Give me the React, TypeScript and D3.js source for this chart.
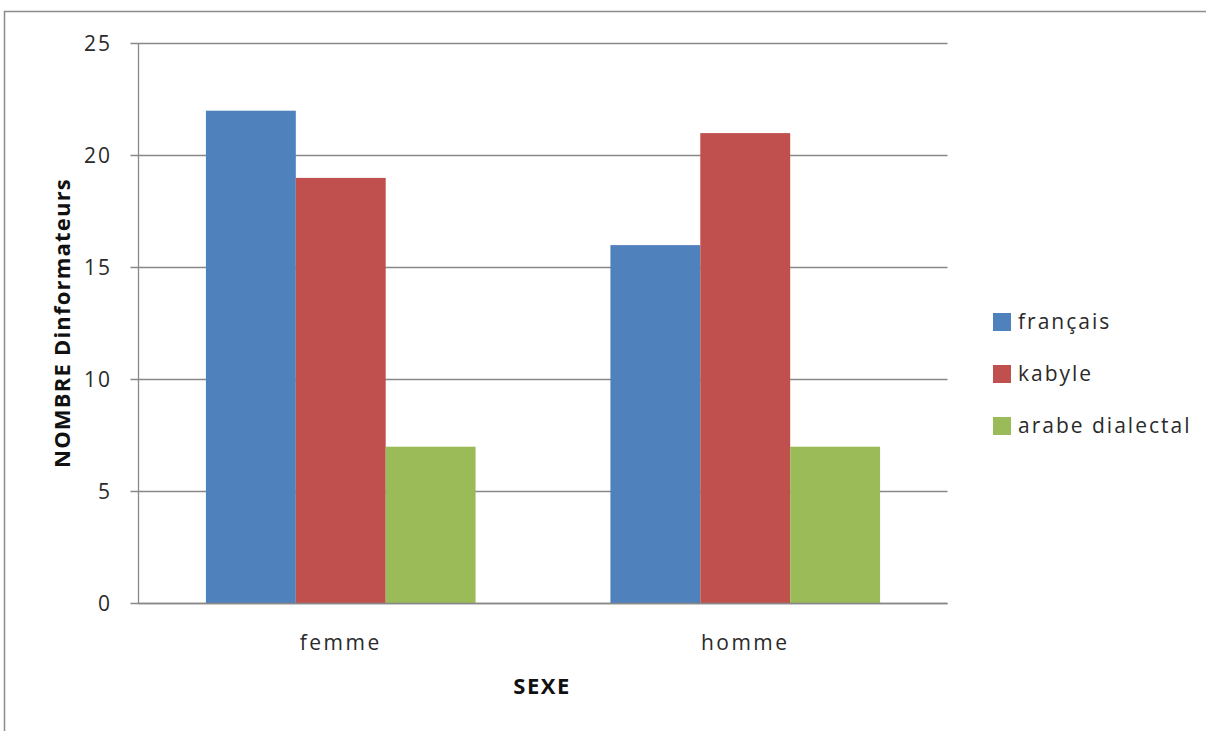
import React from "react";
import * as d3 from "d3";

const categories = ["femme", "homme"];
const seriesNames = ["français", "kabyle", "arabe dialectal"];
const francais = [22, 16];
const kabyle = [19, 21];
const arabeDialectal = [7, 7];
const yTicks = [0, 5, 10, 15, 20, 25];
const colors = ["#4F81BD", "#C0504D", "#9BBB59"];

const W = 1206;
const H = 731;
const plot = { left: 138.5, right: 947.5, top: 43.5, bottom: 603.5 };
const FONT = "'Open Sans', 'Liberation Sans', sans-serif";

export default function App() {
  const seriesValues = [francais, kabyle, arabeDialectal];
  const x0 = d3.scaleBand().domain(categories).range([plot.left, plot.right]).paddingInner(0).paddingOuter(0);
  const y = d3.scaleLinear().domain([0, 25]).range([plot.bottom, plot.top]);
  const catW = x0.bandwidth();
  // gap of 150% of one bar width, split on both sides
  const barW = catW / (seriesNames.length + 1.5);
  const groupOffset = (catW - barW * seriesNames.length) / 2;

  return (
    <svg width={W} height={H} style={{ position: "absolute", left: 0, top: 0, background: "#fff" }}>
      <rect x={4.5} y={11.5} width={W + 10} height={H + 10} fill="#fff" stroke="#8c8c8c" strokeWidth={1.5} />
      {yTicks.map((t) => (
        <g key={t}>
          <line x1={plot.left - 8} x2={plot.right} y1={y(t)} y2={y(t)} stroke="#888" strokeWidth={1.3} />
          <text x={112} y={y(t)} dy="0.35em" textAnchor="end" fontFamily={FONT} fontSize={21} letterSpacing={2} fill="#2a2a2a">
            {t}
          </text>
        </g>
      ))}
      <line x1={plot.left} x2={plot.left} y1={plot.top} y2={plot.bottom} stroke="#888" strokeWidth={1.3} />
      {categories.map((c, ci) =>
        seriesValues.map((vals, si) => {
          const v = vals[ci];
          const bx = (x0(c) ?? 0) + groupOffset + si * barW;
          return (
            <rect key={c + si} x={bx} y={y(v)} width={barW} height={y(0) - y(v)} fill={colors[si]} />
          );
        })
      )}
      <line x1={plot.left} x2={plot.right} y1={plot.bottom} y2={plot.bottom} stroke="#888" strokeWidth={1.3} />
      {categories.map((c) => (
        <text
          key={c}
          x={(x0(c) ?? 0) + catW / 2}
          y={650}
          textAnchor="middle"
          fontFamily={FONT}
          fontSize={21}
          letterSpacing={2.5}
          fill="#2a2a2a"
        >
          {c}
        </text>
      ))}
      <text x={542} y={694} textAnchor="middle" fontFamily={FONT} fontSize={22} letterSpacing={1.5} fontWeight="bold" fill="#111">
        SEXE
      </text>
      <text
        transform="translate(70,323) rotate(-90)"
        textAnchor="middle"
        fontFamily={FONT}
        fontSize={22}
        letterSpacing={1.2}
        fontWeight="bold"
        fill="#111"
      >
        NOMBRE Dinformateurs
      </text>
      {seriesNames.map((s, i) => (
        <g key={s} transform={`translate(993,${313 + i * 52})`}>
          <rect x={0} y={0} width={18} height={18} fill={colors[i]} />
          <text x={25} y={9} dy="0.35em" fontFamily={FONT} fontSize={21} letterSpacing={2} fill="#2a2a2a">
            {s}
          </text>
        </g>
      ))}
    </svg>
  );
}
